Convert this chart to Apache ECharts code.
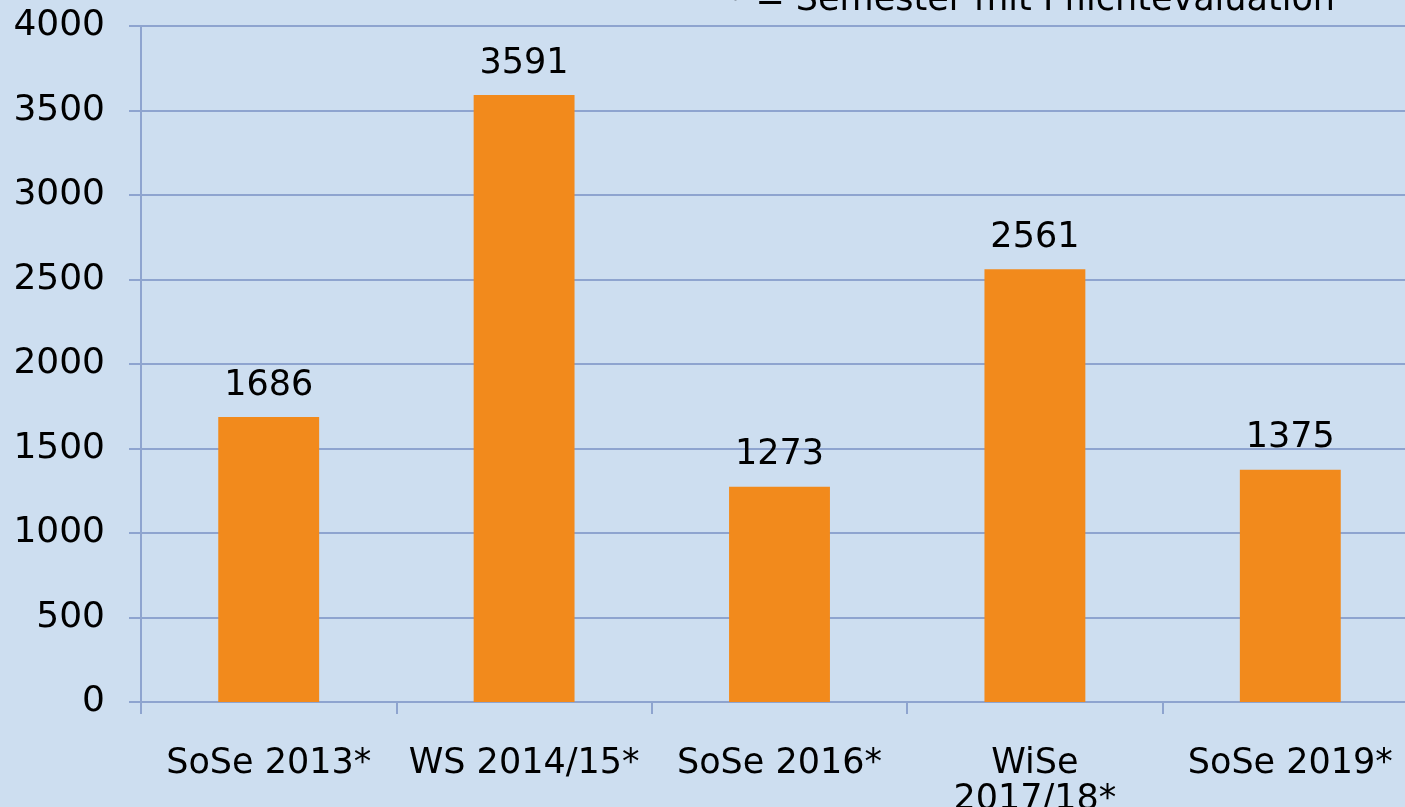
<!DOCTYPE html>
<html>
<head>
<meta charset="utf-8">
<script src="https://cdn.jsdelivr.net/npm/echarts@6/dist/echarts.min.js"></script>
<style>
  html, body { margin: 0; padding: 0; background: #cddef0; }
  #chart { width: 1405px; height: 807px; }
</style>
</head>
<body>
<div id="chart"></div>
<script>
const categories = ['SoSe 2013*', 'WS 2014/15*', 'SoSe 2016*', 'WiSe\n2017/18*', 'SoSe 2019*']
const values = [1686, 3591, 1273, 2561, 1375]
const noteText = '* = Semester mit Pflichtevaluation'

const font = '"DejaVu Sans", sans-serif'
const lineColor = '#8ea4cf'

let myChart = echarts.init(document.getElementById('chart'))
myChart.setOption({
  backgroundColor: '#cddef0',
  textStyle: { fontFamily: font },
  animation: false,
  graphic: [
    {
      type: 'text',
      z: 100,
      style: {
        x: 1335,
        y: 18,
        text: noteText,
        align: 'right',
        verticalAlign: 'bottom',
        font: '35px ' + font,
        fill: '#000'
      }
    }
  ],
  grid: {
    left: 141,
    top: 26,
    width: 1277,
    height: 676,
    outerBoundsMode: 'none'
  },
  xAxis: {
    type: 'category',
    data: categories,
    axisLine: { lineStyle: { color: lineColor, width: 2 } },
    axisTick: { show: true, length: 12, lineStyle: { color: lineColor, width: 2 } },
    axisLabel: {
      color: '#000',
      fontSize: 35,
      interval: 0,
      margin: 44,
      lineHeight: 36,
      fontFamily: font
    }
  },
  yAxis: {
    type: 'value',
    min: 0,
    max: 4000,
    interval: 500,
    axisLine: { show: true, lineStyle: { color: lineColor, width: 2 } },
    axisTick: { show: true, length: 12, lineStyle: { color: lineColor, width: 2 } },
    axisLabel: {
      color: '#000',
      fontSize: 36,
      margin: 36,
      fontFamily: font,
      formatter: v => String(v)
    },
    splitLine: { show: true, lineStyle: { color: lineColor, width: 2 } }
  },
  series: [
    {
      type: 'bar',
      data: values,
      barWidth: '39.5%',
      itemStyle: { color: '#f28a1c' },
      label: {
        show: true,
        position: 'top',
        distance: 14,
        color: '#000',
        fontSize: 35,
        fontFamily: font
      }
    }
  ]
})
</script>
</body>
</html>
